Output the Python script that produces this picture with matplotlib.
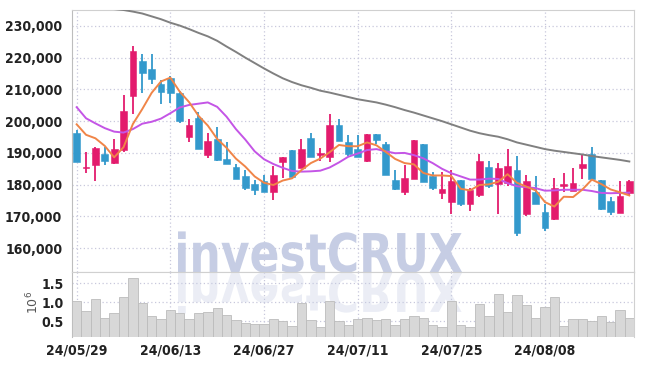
import matplotlib
matplotlib.use('Agg')
import matplotlib.pyplot as plt
from matplotlib.textpath import TextPath
from matplotlib.patches import PathPatch
from matplotlib.font_manager import FontProperties
from matplotlib.transforms import Affine2D
from matplotlib.ticker import FuncFormatter

dates = ['24/05/29', '24/05/30', '24/05/31', '24/06/03', '24/06/04', '24/06/05', '24/06/07',
         '24/06/10', '24/06/11', '24/06/12', '24/06/13', '24/06/14', '24/06/17', '24/06/18',
         '24/06/19', '24/06/20', '24/06/21', '24/06/24', '24/06/25', '24/06/26', '24/06/27',
         '24/06/28', '24/07/01', '24/07/02', '24/07/03', '24/07/04', '24/07/05', '24/07/08',
         '24/07/09', '24/07/10', '24/07/11', '24/07/12', '24/07/15', '24/07/16', '24/07/17',
         '24/07/18', '24/07/19', '24/07/22', '24/07/23', '24/07/24', '24/07/25', '24/07/26',
         '24/07/29', '24/07/30', '24/07/31', '24/08/01', '24/08/02', '24/08/05', '24/08/06',
         '24/08/07', '24/08/08', '24/08/09', '24/08/12', '24/08/13', '24/08/14', '24/08/16',
         '24/08/19', '24/08/20', '24/08/21', '24/08/22']

opens = [196200, 185200, 186200, 189500, 186700, 191000, 207900, 218800, 216500, 211600,
         213600, 208900, 194900, 200900, 189200, 194400, 188000, 185600, 182600, 180300,
         181100, 177700, 187200, 190800, 185400, 194800, 189200, 188700, 198900, 193500,
         191200, 187300, 195900, 192700, 181400, 177700, 181700, 192700, 182600, 177400,
         174500, 181600, 174000, 176600, 185600, 180100, 180400, 184700, 170900, 177800,
         171400, 169300, 179700, 178100, 185100, 189800, 181500, 174900, 171100, 177400]
highs = [197300, 190200, 191800, 192000, 194400, 208100, 223700, 221300, 221300, 213100,
         214100, 209500, 200600, 202800, 196200, 198200, 193500, 186600, 184500, 181400,
         183200, 185800, 188800, 190800, 194500, 196400, 191700, 202100, 200800, 195500,
         195600, 196000, 195900, 193300, 184700, 186100, 194000, 192700, 184000, 184000,
         184500, 181600, 179100, 189800, 187300, 186800, 191300, 189100, 183100, 182600,
         174000, 182000, 183600, 185400, 189800, 191900, 181500, 176000, 181300, 181500]
lows = [187000, 183600, 181300, 186300, 186500, 190200, 202100, 208800, 211600, 205500,
        205700, 199400, 193400, 191300, 188400, 187400, 186400, 181700, 178200, 176600,
        177700, 175100, 182100, 182400, 185400, 188700, 187400, 187200, 193700, 189000,
        188700, 187000, 192900, 182900, 178200, 176800, 181700, 180800, 178200, 175600,
        170800, 173200, 171600, 176100, 179100, 170900, 179600, 163900, 170000, 174000,
        165500, 168900, 177800, 178100, 181700, 181800, 171900, 170300, 171100, 176400]
closes = [187000, 185700, 191500, 187600, 191100, 203200, 222000, 215200, 213200, 209100,
          208800, 200200, 198900, 191300, 193900, 187700, 186400, 181700, 179000, 178300,
          177700, 182900, 188600, 182400, 191200, 188700, 190100, 198700, 193700, 189500,
          188700, 196000, 194200, 182900, 178700, 182200, 194000, 180800, 178900, 178500,
          181100, 174000, 178400, 187400, 179600, 185200, 186000, 164800, 181200, 174000,
          166400, 179100, 180200, 180600, 186400, 181800, 172200, 171400, 176400, 181200]
volumes = [1.03, 0.77, 1.09, 0.60, 0.71, 1.14, 1.63, 0.97, 0.64, 0.56,
           0.80, 0.71, 0.56, 0.71, 0.74, 0.85, 0.67, 0.53, 0.46, 0.43,
           0.43, 0.56, 0.50, 0.37, 0.97, 0.53, 0.36, 1.02, 0.51, 0.41,
           0.56, 0.59, 0.54, 0.56, 0.41, 0.56, 0.63, 0.59, 0.41, 0.36,
           1.02, 0.41, 0.36, 0.95, 0.63, 1.21, 0.74, 1.18, 0.92, 0.59,
           0.87, 1.14, 0.38, 0.56, 0.56, 0.50, 0.63, 0.49, 0.79, 0.59]
ma5 = [199000, 195700, 194600, 192200, 188600, 191800, 199100, 203800, 208900, 212500,
       213700, 209300, 206000, 201700, 198600, 194400, 191600, 188200, 185700, 182600,
       180600, 179900, 181300, 182000, 184600, 186800, 188200, 190200, 192500, 192100,
       192100, 193300, 192400, 190300, 188100, 186800, 186400, 183700, 182900, 182900,
       182700, 178700, 178200, 179900, 180100, 180900, 183300, 180600, 179400, 178200,
       174500, 173100, 176200, 176100, 178500, 181600, 180200, 178500, 177600, 176600]
ma20 = [204400, 200900, 199300, 197800, 196700, 196400, 197500, 199200, 199800, 200800,
        202500, 204300, 205100, 205500, 205900, 204500, 201400, 197500, 194200, 190500,
        188000, 186500, 185300, 184300, 184100, 184200, 184400, 185400, 187000, 188800,
        189800, 190900, 191200, 190500, 189900, 190000, 189300, 188300, 186800, 185000,
        183600, 182600, 181600, 181600, 181900, 181800, 180500, 179500, 179200, 178900,
        178100, 178200, 178400, 178400, 178400, 178000, 177400, 177300, 177400, 177500]
ma60 = [237500, 237000, 236500, 236000, 235300, 235000, 234500, 233900, 233000, 232100,
        231000, 230100, 229000, 227800, 226700, 225300, 223500, 221800, 220000, 218300,
        216600, 215000, 213500, 212300, 211300, 210500, 209600, 209000, 208300, 207600,
        206900, 206400, 205900, 205200, 204400, 203500, 202700, 201800, 200900, 200000,
        199000, 198000, 197000, 196200, 195600, 195100, 194300, 193300, 192600, 191900,
        191200, 190700, 190300, 189900, 189500, 189000, 188600, 188200, 187800, 187300]
tick_labels = ['24/05/29', '24/06/13', '24/06/27', '24/07/11', '24/07/25', '24/08/08']
price_ticks = [160000, 170000, 180000, 190000, 200000, 210000, 220000, 230000]
vol_ticks = [0.5, 1.0, 1.5]

UP = '#e31b6d'
DOWN = '#3399cc'
GRID = '#c8c8dc'
LABEL_FP = dict(family='DejaVu Sans', stretch='condensed', weight='bold')

W, H = 645, 366
fig = plt.figure(figsize=(W / 100, H / 100), dpi=100)
ax = fig.add_axes([72 / W, 1 - 272 / H, 562 / W, 262 / H])
axv = fig.add_axes([72 / W, 1 - 337 / H, 562 / W, 65 / H], sharex=ax)

x = list(range(len(dates)))
tick_pos = [dates.index(t) for t in tick_labels]

# candles
colors = [UP if c >= o else DOWN for o, c in zip(opens, closes)]
bottoms = [min(o, c) for o, c in zip(opens, closes)]
heights = [max(abs(c - o), 150) for o, c in zip(opens, closes)]
ax.vlines(x, lows, highs, colors=colors, linewidth=1.3, zorder=3)
ax.bar(x, heights, bottom=bottoms, width=0.72, color=colors, edgecolor=colors,
       linewidth=0.4, zorder=4)

ax.plot(x, ma60, color='#808080', lw=1.4, zorder=5)
ax.plot(x, ma20, color='#c455e6', lw=1.4, zorder=5)
ax.plot(x, ma5, color='#f08548', lw=1.4, zorder=6)

ax.set_ylim(152500, 235000)
ax.set_yticks(price_ticks)
ax.yaxis.set_major_formatter(FuncFormatter(lambda v, p: f'{int(v):,}'))
ax.set_xticks(tick_pos)
ax.tick_params(axis='x', labelbottom=False, length=0)
ax.tick_params(axis='y', length=0, pad=7, labelsize=10, labelcolor='#222222')
for lab in ax.get_yticklabels():
    lab.set(**{'fontfamily': LABEL_FP['family'], 'fontstretch': LABEL_FP['stretch'],
               'fontweight': LABEL_FP['weight']})
ax.grid(True, color=GRID, linestyle=(0, (1, 2)), linewidth=0.9)
ax.set_axisbelow(True)
for s in ax.spines.values():
    s.set_color('#d0d0d0')
ax.spines['left'].set_color('#bdbdbd')

# volume
axv.bar(x, volumes, width=1.0, color='#d8d8d8', edgecolor='#bcbcbc', linewidth=0.6, zorder=3)
axv.set_ylim(0.09, 1.79)
axv.set_yticks(vol_ticks)
axv.set_yticklabels([f'{v:.1f}' for v in vol_ticks])
axv.set_xticks(tick_pos)
axv.set_xticklabels(tick_labels)
axv.tick_params(axis='both', length=0, labelsize=10, labelcolor='#222222')
axv.tick_params(axis='y', pad=6)
axv.tick_params(axis='x', pad=5)
for lab in axv.get_yticklabels() + axv.get_xticklabels():
    lab.set(**{'fontfamily': LABEL_FP['family'], 'fontstretch': LABEL_FP['stretch'],
               'fontweight': LABEL_FP['weight']})
axv.grid(True, color=GRID, linestyle=(0, (1, 2)), linewidth=0.9)
axv.set_axisbelow(True)
for s in axv.spines.values():
    s.set_color('#d0d0d0')
axv.spines['left'].set_color('#bdbdbd')
axv.spines['bottom'].set_visible(False)
axv.set_xlim(-0.5, len(dates) - 0.5)
fig.text(33 / W, 1 - 302 / H, r'$10^6$', rotation=90, ha='center', va='center',
         fontsize=9, color='#555555')

# watermark with reflection
fp = FontProperties(family='DejaVu Sans', weight='bold')
tp = TextPath((0, 0), 'investCRUX', size=100, prop=fp)
bb = tp.get_extents()
sx = 284 / bb.width
sy = 39 / 73.0
x0 = 178 - bb.x0 * sx
base = H - 272
wm = PathPatch(tp, transform=Affine2D().scale(sx, sy).translate(x0, base),
               facecolor='#c6cde4', edgecolor='none', zorder=2)
ax.add_patch(wm)
rf = PathPatch(tp, transform=Affine2D().scale(sx, -sy).translate(x0, base - 1),
               facecolor='#c6cde4', edgecolor='none', alpha=0.35, zorder=2)
axv.add_patch(rf)

ax.set_xlim(-0.5, len(dates) - 0.5)
ax.set_ylim(152500, 235000)
axv.set_ylim(0.09, 1.79)

fig.savefig('out.png', dpi=100)
